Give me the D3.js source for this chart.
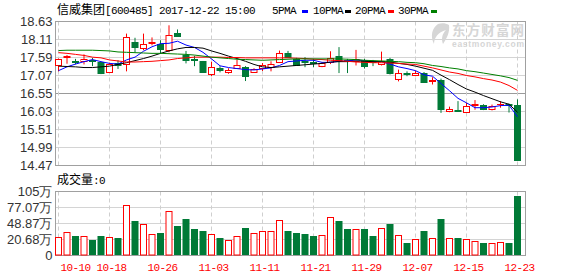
<!DOCTYPE html>
<html><head><meta charset="utf-8">
<script src="https://cdn.jsdelivr.net/npm/d3@7/dist/d3.min.js"></script>
<style>
body{margin:0;background:#fff;}
svg{display:block;}
</style></head><body>
<svg id="chart" width="578" height="276"></svg>
<script>
// ---------- data ----------
const tickDates = ["10-10","10-18","10-26","11-03","11-11","11-21","11-29","12-07","12-15","12-23"];
const tickIndex = [0,6,12,18,24,30,36,42,48,54];
const priceTicks = [18.63,18.11,17.59,17.07,16.55,16.03,15.51,14.99,14.47];
const volTickLabels = ["105万","77.07万","48.87万","20.68万","0"];

const open  = [17.36,17.60,17.49,17.48,17.51,17.45,17.17,17.44,17.41,18.04,17.87,18.02,17.97,17.80,18.31,17.65,17.54,17.48,17.12,17.30,17.18,17.29,17.32,17.18,17.30,17.32,17.46,17.71,17.56,17.49,17.47,17.34,17.47,17.62,17.53,17.49,17.51,17.49,17.41,17.55,16.98,17.13,17.07,17.15,16.91,16.94,16.04,16.07,16.02,16.22,16.23,16.11,16.24,16.25,16.23];
const high  = [17.56,17.66,17.55,17.68,17.58,17.47,17.44,17.51,18.28,18.16,18.28,18.17,18.09,18.52,18.40,17.78,17.64,17.49,17.47,17.34,17.28,17.53,17.34,17.28,17.43,17.48,17.79,17.78,17.58,17.60,17.55,17.45,17.77,17.89,17.55,17.81,17.55,17.52,17.76,17.58,17.24,17.19,17.21,17.17,17.02,16.98,16.17,16.33,16.28,16.36,16.24,16.23,16.33,16.26,16.38];
const low   = [17.19,17.41,17.39,17.39,17.34,17.11,17.16,17.26,17.19,17.74,17.80,17.94,17.70,17.74,18.20,17.42,17.34,17.15,17.05,17.16,17.12,17.27,16.91,17.15,17.20,17.19,17.44,17.58,17.35,17.31,17.31,17.31,17.40,17.14,17.14,17.36,17.27,17.34,17.36,17.10,16.90,17.05,17.05,16.87,16.81,15.99,16.01,16.02,16.01,16.08,16.07,16.06,16.14,16.00,14.60];
const close = [17.55,17.62,17.47,17.55,17.50,17.15,17.39,17.37,18.19,17.90,17.99,18.03,17.84,18.25,18.21,17.52,17.52,17.18,17.32,17.23,17.24,17.38,17.05,17.26,17.36,17.41,17.73,17.59,17.36,17.46,17.42,17.43,17.58,17.53,17.51,17.54,17.35,17.46,17.50,17.15,17.14,17.11,17.15,16.89,16.94,16.09,16.10,16.05,16.20,16.25,16.11,16.18,16.26,16.23,14.62];
const volume = [30.7,38.3,31.2,32.8,25.7,31.2,30.7,29.5,83.2,57.4,52.0,35.6,36.1,73.3,47.6,59.1,42.7,40.5,35.6,27.9,25.7,32.3,45.9,37.2,40.5,40.5,58.5,39.4,36.1,34.5,31.2,33.9,63.4,57.4,42.7,43.8,42.7,31.2,45.9,50.9,33.9,21.3,27.3,39.4,29.0,60.7,29.0,27.9,27.3,24.1,21.3,20.8,22.4,21.3,98.4];

const ma5  = [17.21,17.32,17.40,17.47,17.53,17.47,17.42,17.40,17.52,17.60,17.77,17.90,17.99,18.00,18.06,17.95,17.88,17.74,17.55,17.35,17.30,17.27,17.24,17.23,17.26,17.29,17.36,17.47,17.49,17.51,17.51,17.45,17.45,17.48,17.49,17.52,17.50,17.48,17.47,17.40,17.32,17.27,17.21,17.09,17.05,16.84,16.63,16.41,16.28,16.14,16.14,16.16,16.20,16.21,15.88];
const ma10 = [17.34,17.33,17.32,17.30,17.30,17.32,17.34,17.39,17.44,17.50,17.56,17.63,17.71,17.78,17.84,17.88,17.88,17.86,17.78,17.71,17.63,17.56,17.48,17.39,17.32,17.30,17.32,17.34,17.36,17.38,17.40,17.42,17.46,17.47,17.47,17.49,17.48,17.47,17.47,17.46,17.42,17.39,17.34,17.28,17.22,17.08,16.95,16.81,16.68,16.59,16.49,16.40,16.31,16.24,16.01];
const ma20 = [17.73,17.71,17.68,17.65,17.60,17.58,17.52,17.49,17.46,17.46,17.47,17.48,17.50,17.52,17.56,17.58,17.60,17.60,17.60,17.60,17.59,17.59,17.58,17.58,17.58,17.58,17.58,17.58,17.57,17.56,17.54,17.53,17.51,17.50,17.48,17.46,17.45,17.44,17.44,17.43,17.42,17.40,17.39,17.34,17.29,17.23,17.17,17.13,17.07,17.03,16.98,16.94,16.88,16.78,16.64];
const ma30 = [17.79,17.80,17.80,17.80,17.80,17.79,17.78,17.75,17.74,17.73,17.72,17.71,17.71,17.70,17.69,17.68,17.66,17.63,17.60,17.58,17.56,17.54,17.53,17.52,17.51,17.52,17.53,17.54,17.55,17.55,17.55,17.55,17.55,17.55,17.54,17.53,17.51,17.50,17.49,17.48,17.47,17.45,17.44,17.41,17.36,17.33,17.29,17.26,17.21,17.18,17.14,17.10,17.06,17.01,16.93];

const maSeries = [
  {name:"5PMA",  values:ma5,  color:"#0000ff"},
  {name:"10PMA", values:ma10, color:"#000000"},
  {name:"20PMA", values:ma20, color:"#ff0000"},
  {name:"30PMA", values:ma30, color:"#008000"}
];

// ---------- layout ----------
const RED = "#ff0000", GREEN = "#007a37";
const GRID = "#d4d4d4", FRAME = "#a0a0a0", MID = "#9a9a9a";
const left = 55.5, right = 525.5;
const pTop = 21.5, pBot = 165.5, vTop = 191.5, vBot = 255.5;
const sessions = d3.range(open.length);

const svg = d3.select("#chart");
const x = d3.scalePoint().domain(sessions).range([58.5, 517.5]);
const y = d3.scaleLinear().domain([14.47, 18.63]).range([pBot, pTop]);
const yv = d3.scaleLinear().domain([0, 105]).range([vBot, vTop]);
const yvLab = d3.scalePoint().domain(volTickLabels).range([vTop, vBot]);

const numFont = "'Liberation Sans', Arial, sans-serif";
const monoFont = "'Liberation Mono', 'DejaVu Sans Mono', monospace";
const cjkFont = "'Noto Sans CJK SC', sans-serif";

// ---------- grids ----------
const grid = svg.append("g");
grid.selectAll("line.hp").data(priceTicks.slice(1, -1)).join("line")
  .attr("x1", left).attr("x2", right)
  .attr("y1", d => y(d)).attr("y2", d => y(d))
  .attr("stroke", (d, i) => i === 3 ? MID : GRID).attr("stroke-width", 1);
grid.selectAll("line.hv").data(volTickLabels.slice(1, -1)).join("line")
  .attr("x1", left).attr("x2", right)
  .attr("y1", d => yvLab(d)).attr("y2", d => yvLab(d))
  .attr("stroke", GRID);
[[pTop, pBot], [vTop, vBot]].forEach(([t, b]) => {
  grid.append("g").selectAll("line").data(tickIndex).join("line")
    .attr("x1", d => x(d)).attr("x2", d => x(d))
    .attr("y1", t).attr("y2", b)
    .attr("stroke", "#cfcfcf").attr("stroke-dasharray", "4,3");
});

// frames
svg.append("rect").attr("x", left).attr("y", pTop).attr("width", right - left).attr("height", pBot - pTop)
  .attr("fill", "none").attr("stroke", FRAME);
svg.append("rect").attr("x", left).attr("y", vTop).attr("width", right - left).attr("height", vBot - vTop)
  .attr("fill", "none").attr("stroke", FRAME);

// ---------- watermark ----------
const wm = svg.append("g").attr("fill", "#d6d6d6");
wm.append("path")
  .attr("d", "M438,24 C432,28 430,36 434,44 C434,38 438,32 446,30 C442,34 441,39 443,44 C447,38 450,32 449,25 C446,23 441,23 438,24 Z");
wm.append("text").attr("x", 452).attr("y", 35).attr("font-family", cjkFont)
  .attr("font-size", 13.5).attr("font-weight", "bold").attr("textLength", 72).text("东方财富网");
wm.append("text").attr("x", 452).attr("y", 46.5).attr("font-family", numFont)
  .attr("font-size", 8.5).attr("font-weight", "bold").attr("textLength", 72).text("eastmoney.com");

// ---------- candles ----------
const cg = svg.append("g");
sessions.forEach(i => {
  const up = close[i] >= open[i];
  const col = up ? RED : GREEN;
  const cx = x(i);
  cg.append("line").attr("x1", cx).attr("x2", cx)
    .attr("y1", y(high[i])).attr("y2", y(low[i])).attr("stroke", col);
  const t = Math.round(y(Math.max(open[i], close[i])));
  const b = Math.round(y(Math.min(open[i], close[i])));
  if (b - t < 1) {
    cg.append("line").attr("x1", cx - 3.5).attr("x2", cx + 3.5)
      .attr("y1", t + 0.5).attr("y2", t + 0.5).attr("stroke", col);
  } else if (up) {
    cg.append("rect").attr("x", cx - 3).attr("y", t + 0.5).attr("width", 6).attr("height", b - t)
      .attr("fill", "#fff").attr("stroke", col);
  } else {
    cg.append("rect").attr("x", cx - 3.5).attr("y", t).attr("width", 7).attr("height", b - t + 1)
      .attr("fill", col);
  }
});

// ---------- moving averages ----------
const line = d3.line().x((d, i) => x(i)).y(d => y(d));
svg.append("g").selectAll("path").data(maSeries).join("path")
  .attr("d", d => line(d.values)).attr("fill", "none")
  .attr("stroke", d => d.color).attr("stroke-width", 1);

// ---------- volume ----------
const vg = svg.append("g");
sessions.forEach(i => {
  const up = close[i] >= open[i];
  const t = Math.round(yv(volume[i]));
  if (up) {
    vg.append("rect").attr("x", x(i) - 3).attr("y", t + 0.5).attr("width", 6).attr("height", vBot - 0.5 - t - 0.5)
      .attr("fill", "#fff").attr("stroke", RED);
  } else {
    vg.append("rect").attr("x", x(i) - 3.5).attr("y", t).attr("width", 7).attr("height", vBot - t - 0.5)
      .attr("fill", GREEN);
  }
});

// ---------- axes ----------
const ax = svg.append("g").attr("transform", `translate(${left},0)`)
  .call(d3.axisLeft(y).tickValues(priceTicks).tickFormat(d3.format(".2f")).tickSize(0).tickPadding(3));
ax.select(".domain").remove();
ax.selectAll("text").attr("font-family", numFont).attr("font-size", 13).attr("fill", "#333");

const vax = svg.append("g").attr("transform", `translate(${left},0)`)
  .call(d3.axisLeft(yvLab).tickSize(0).tickPadding(3));
vax.select(".domain").remove();
vax.selectAll("text").attr("font-family", numFont).attr("font-size", 13).attr("fill", "#333");

const xax = svg.append("g").attr("transform", `translate(0,${vBot})`)
  .call(d3.axisBottom(x).tickValues(tickIndex).tickFormat((d, i) => tickDates[i]).tickSize(0).tickPadding(0));
xax.select(".domain").remove();
xax.selectAll("text")
  .attr("font-family", monoFont).attr("font-size", 11).attr("letter-spacing", "-0.6px")
  .attr("fill", RED).attr("dy", null).attr("y", 15).attr("x", 1.5)
  .attr("text-anchor", (d, i) => i === 0 ? "start" : "middle");

// ---------- titles ----------
function mixed(xp, yp, parts) {
  const t = svg.append("text").attr("x", xp).attr("y", yp).attr("fill", "#000");
  parts.forEach(([s, cjk]) => {
    const ts = t.append("tspan").text(s);
    if (cjk) ts.attr("font-family", cjkFont).attr("font-size", 12);
    else ts.attr("font-family", monoFont).attr("font-size", 11).attr("letter-spacing", "-0.6px");
  });
}
mixed(57, 14, [["信威集团", true], ["[600485] 2017-12-22 15:00", false]]);
mixed(57, 184, [["成交量", true], [":0", false]]);

const legX = [272, 313, 355, 398], sqX = [302, 345, 388, 431];
maSeries.forEach((s, i) => {
  svg.append("text").attr("x", legX[i]).attr("y", 14)
    .attr("font-family", monoFont).attr("font-size", 11).attr("letter-spacing", "-0.6px")
    .attr("fill", "#000").text(s.name);
  svg.append("rect").attr("x", sqX[i]).attr("y", 10).attr("width", 6).attr("height", 3).attr("fill", s.color);
});
</script>
</body></html>
